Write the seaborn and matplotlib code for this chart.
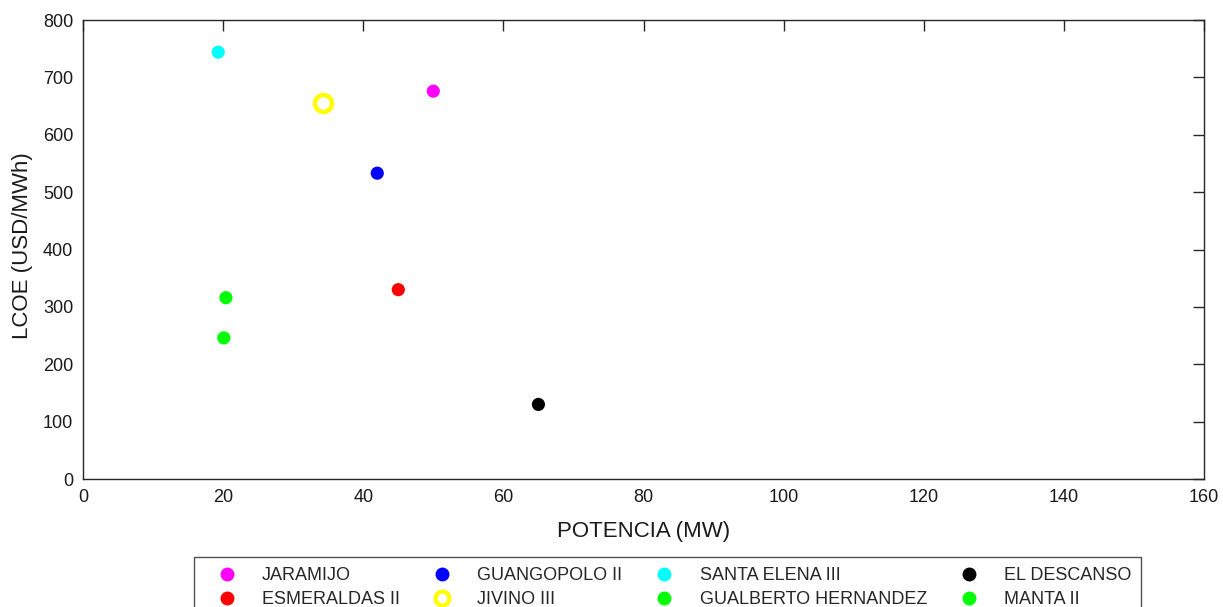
import matplotlib
matplotlib.use("Agg")
import matplotlib.pyplot as plt
import seaborn as sns
import pandas as pd
from matplotlib.lines import Line2D

# Data (column-major order so a 4-column legend reads row by row like the reference)
plants = ["JARAMIJO", "ESMERALDAS II", "GUANGOPOLO II", "JIVINO III",
          "SANTA ELENA III", "GUALBERTO HERNANDEZ", "EL DESCANSO", "MANTA II"]
potencia_mw = [50.0, 45.0, 42.0, 34.3, 19.3, 20.4, 65.0, 20.1]
lcoe_usd_mwh = [676, 330, 533, 655, 744, 316, 130, 246]
colors = ["#ff00ff", "#ff0000", "#0000ff", "#ffff00",
          "#00ffff", "#00ff00", "#000000", "#00ff00"]

x_ticks = [0, 20, 40, 60, 80, 100, 120, 140, 160]
y_ticks = [0, 100, 200, 300, 400, 500, 600, 700, 800]

sns.set_theme(style="white")
plt.rcParams["font.family"] = ["Liberation Sans", "DejaVu Sans"]

df = pd.DataFrame({"plant": plants, "x": potencia_mw, "y": lcoe_usd_mwh})
palette = dict(zip(plants, colors))

fig = plt.figure(figsize=(12.23, 6.07), dpi=100)
ax = fig.add_axes([83 / 1223, 1 - 479 / 607, (1204 - 83) / 1223, (479 - 20) / 607])

filled = df[df["plant"] != "JIVINO III"]
ring = df[df["plant"] == "JIVINO III"]

sns.scatterplot(data=filled, x="x", y="y", hue="plant", palette=palette,
                s=90, linewidth=0, ax=ax, legend=False, zorder=3)
sns.scatterplot(data=ring, x="x", y="y", hue="plant", palette=palette,
                s=150, linewidth=3.2, ax=ax, legend=False, zorder=3)
coll = ax.collections[-1]
coll.set_facecolor("white")
coll.set_edgecolor(colors[3])

ax.set_xlim(0, 160)
ax.set_ylim(0, 800)
ax.set_xticks(x_ticks)
ax.set_yticks(y_ticks)
ax.set_xlabel("POTENCIA (MW)", fontsize=16, labelpad=11, color="#1a1a1a")
ax.set_ylabel("LCOE (USD/MWh)", fontsize=16, color="#1a1a1a")
ax.yaxis.set_label_coords(-0.0446, 0.509)
ax.tick_params(axis="both", which="both", direction="in", length=8, width=1,
               labelsize=13, color="#262626", labelcolor="#1a1a1a",
               top=True, right=True, pad=7)
for sp in ax.spines.values():
    sp.set_visible(True)
    sp.set_color("#262626")
    sp.set_linewidth(1)

# Legend
handles = []
for p, c in zip(plants, colors):
    if p == "JIVINO III":
        h = Line2D([], [], marker="o", linestyle="none", markersize=10,
                   markerfacecolor="white", markeredgecolor=c, markeredgewidth=3)
    else:
        h = Line2D([], [], marker="o", linestyle="none", markersize=9,
                   markerfacecolor=c, markeredgecolor=c)
    handles.append(h)
leg = fig.legend(handles, plants, loc="upper center", ncol=4,
                 bbox_to_anchor=(0.546, 1 - 557 / 607), borderaxespad=0,
                 frameon=True, fontsize=13, handletextpad=0.67,
                 columnspacing=1.05, borderpad=0.55, labelspacing=0.4,
                 handlelength=2.55, fancybox=False, edgecolor="#262626")
leg.get_frame().set_linewidth(1)

fig.savefig("out.png", dpi=100)
